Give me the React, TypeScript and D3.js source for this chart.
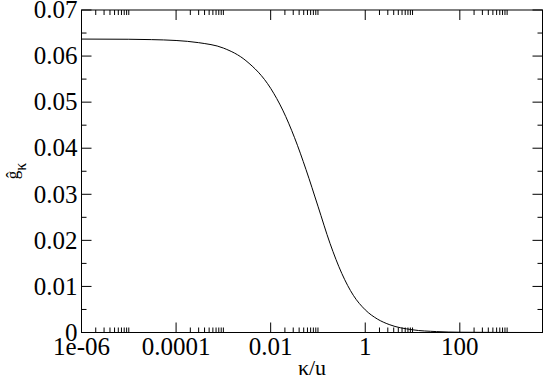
import React, { useRef, useEffect } from "react";
import { select, scaleLog, scaleLinear, line, curveMonotoneX, range } from "d3";

// curve: kappa/u and g_kappa
const kappa = [
  1e-6, 1e-5, 3e-5, 1e-4, 3e-4, 1e-3, 3e-3, 0.01, 0.018, 0.032, 0.056, 0.1,
  0.18, 0.32, 0.56, 1, 1.8, 3.2, 10, 32, 100, 1000, 5600,
];
const gHat = [
  0.06369, 0.06365, 0.06357, 0.06338, 0.06291, 0.06174, 0.059, 0.053, 0.04827,
  0.04228, 0.03534, 0.02742, 0.01934, 0.0128, 0.00807, 0.00492, 0.00293,
  0.00173, 0.00059, 0.0002, 0.00006, 0.00001, 0,
];

const xMajor = [1e-6, 1e-4, 1e-2, 1, 100];
const xMajorLabels = ["1e-06", "0.0001", "0.01", "1", "100"];
const yMajor = [0, 0.01, 0.02, 0.03, 0.04, 0.05, 0.06, 0.07];
const yMajorLabels = ["0", "0.01", "0.02", "0.03", "0.04", "0.05", "0.06", "0.07"];

const width = 545;
const height = 379;
const margin = { left: 81.5, right: 2.5, top: 10, bottom: 46.5 };

const Chart = () => {
  const ref = useRef<SVGSVGElement>(null);

  useEffect(() => {
    const svg = select(ref.current);
    svg.selectAll("*").remove();

    const innerWidth = width - margin.left - margin.right;
    const innerHeight = height - margin.top - margin.bottom;

    const xScale = scaleLog().domain([1e-6, 5600]).range([0, innerWidth]);
    const yScale = scaleLinear().domain([0, 0.07]).range([innerHeight, 0]);

    // grace style minor ticks: 2..10 x major, only in the first decade
    const xMinor: number[] = [];
    xMajor.forEach((m) => {
      range(2, 11).forEach((k) => xMinor.push(m * k));
    });
    const yMinor = range(0.005, 0.07, 0.01);

    const g = svg
      .append("g")
      .attr("transform", `translate(${margin.left}, ${margin.top})`);

    const tickColor = "#000";
    const major = 10;
    const minor = 5;

    // x ticks, bottom and top
    xMajor.forEach((v) => {
      const x = xScale(v);
      g.append("line").attr("x1", x).attr("x2", x).attr("y1", innerHeight).attr("y2", innerHeight - major).attr("stroke", tickColor);
      g.append("line").attr("x1", x).attr("x2", x).attr("y1", 0).attr("y2", major).attr("stroke", tickColor);
    });
    xMinor.forEach((v) => {
      const x = xScale(v);
      if (x > innerWidth) return;
      g.append("line").attr("x1", x).attr("x2", x).attr("y1", innerHeight).attr("y2", innerHeight - minor).attr("stroke", tickColor);
      g.append("line").attr("x1", x).attr("x2", x).attr("y1", 0).attr("y2", minor).attr("stroke", tickColor);
    });

    // y ticks, left and right
    yMajor.forEach((v) => {
      const y = yScale(v);
      g.append("line").attr("x1", 0).attr("x2", major).attr("y1", y).attr("y2", y).attr("stroke", tickColor);
      g.append("line").attr("x1", innerWidth).attr("x2", innerWidth - major).attr("y1", y).attr("y2", y).attr("stroke", tickColor);
    });
    yMinor.forEach((v) => {
      const y = yScale(v);
      g.append("line").attr("x1", 0).attr("x2", minor).attr("y1", y).attr("y2", y).attr("stroke", tickColor);
      g.append("line").attr("x1", innerWidth).attr("x2", innerWidth - minor).attr("y1", y).attr("y2", y).attr("stroke", tickColor);
    });

    // frame
    g.append("rect")
      .attr("width", innerWidth)
      .attr("height", innerHeight)
      .attr("fill", "none")
      .attr("stroke", "#000")
      .attr("stroke-width", 1);

    const font = "Liberation Serif, DejaVu Serif, serif";

    // tick labels
    xMajor.forEach((v, i) => {
      g.append("text")
        .attr("x", xScale(v))
        .attr("y", innerHeight + 22)
        .attr("text-anchor", "middle")
        .attr("font-family", font)
        .attr("font-size", 25)
        .text(xMajorLabels[i]);
    });
    yMajor.forEach((v, i) => {
      g.append("text")
        .attr("x", -4)
        .attr("y", yScale(v))
        .attr("dy", "0.33em")
        .attr("text-anchor", "end")
        .attr("font-family", font)
        .attr("font-size", 25)
        .text(yMajorLabels[i]);
    });

    // curve
    const lineGenerator = line<number>()
      .x((d, i) => xScale(kappa[i]))
      .y((d) => yScale(d))
      .curve(curveMonotoneX);

    g.append("path")
      .datum(gHat)
      .attr("fill", "none")
      .attr("stroke", "#000")
      .attr("stroke-width", 1)
      .attr("d", lineGenerator);

    // axis labels
    svg.append("text")
      .attr("x", margin.left + innerWidth / 2)
      .attr("y", 375)
      .attr("text-anchor", "middle")
      .attr("font-family", font)
      .attr("font-size", 22)
      .text("κ/u");

    const yl = svg.append("text")
      .attr("transform", "translate(18, 171) rotate(-90)")
      .attr("text-anchor", "middle")
      .attr("font-family", font)
      .attr("font-size", 17);
    yl.append("tspan").text("ĝ");
    yl.append("tspan").attr("dy", 8).attr("font-size", 16).text("κ");
  }, []);

  return (
    <svg
      ref={ref}
      width={width}
      height={height}
      style={{ position: "absolute", left: 0, top: 0, background: "#fff" }}
    />
  );
};

export default function App() {
  return <Chart />;
}
